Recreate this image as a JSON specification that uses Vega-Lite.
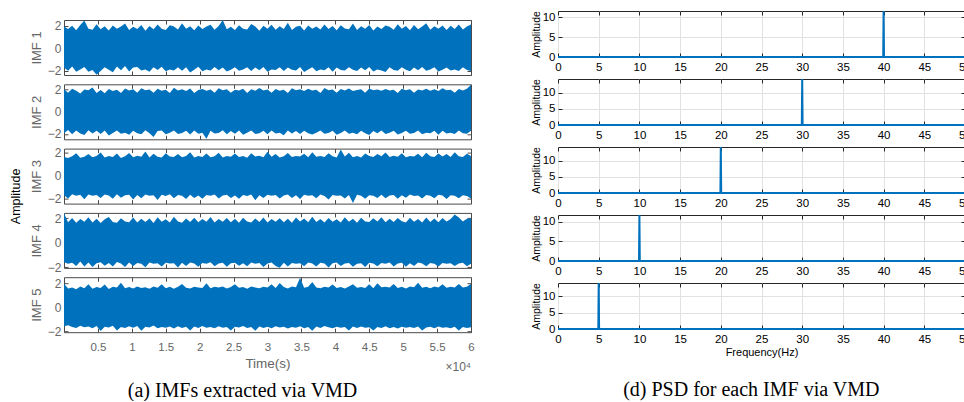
{
"$schema": "https://vega.github.io/schema/vega-lite/v6.json",
"padding": {"left": 10, "top": 6, "right": 0, "bottom": 0},
"background": "white",
"config": {
 "font": "Liberation Sans",
 "axis": {"domain": false, "tickSize": -4, "grid": false, "labelFont": "Liberation Sans", "titleFont": "Liberation Sans", "titleFontWeight": "normal", "labelFlush": false, "labelOverlap": false},
 "title": {"font": "Liberation Serif", "fontWeight": "normal", "color": "#000000"}
},
"datasets": {
 "imf": [
{"t":0,"h1":1.92,"l1":-1.73,"h2":2.05,"l2":-1.95,"h3":1.63,"l3":-1.67,"h4":2.4,"l4":-1.6,"h5":1.95,"l5":-1.55},
{"t":600,"h1":1.7,"l1":-2.02,"h2":1.73,"l2":-1.65,"h3":1.55,"l3":-1.95,"h4":1.67,"l4":-1.73,"h5":1.57,"l5":-1.47},
{"t":1200,"h1":1.98,"l1":-1.64,"h2":2.1,"l2":-2.05,"h3":1.69,"l3":-1.58,"h4":2.02,"l4":-1.65,"h5":1.65,"l5":-1.63},
{"t":1800,"h1":1.59,"l1":-2.1,"h2":1.92,"l2":-1.71,"h3":1.95,"l3":-1.71,"h4":1.63,"l4":-1.92,"h5":1.51,"l5":-1.7},
{"t":2400,"h1":2.05,"l1":-1.91,"h2":1.66,"l2":-1.98,"h3":1.57,"l3":-1.64,"h4":1.94,"l4":-1.55,"h5":1.73,"l5":-1.51},
{"t":3000,"h1":2.45,"l1":-1.69,"h2":2.02,"l2":-2.1,"h3":1.65,"l3":-2.02,"h4":1.71,"l4":-1.95,"h5":1.59,"l5":-1.65},
{"t":3600,"h1":1.73,"l1":-2.1,"h2":1.95,"l2":-1.68,"h3":1.9,"l3":-1.61,"h4":2.08,"l4":-1.63,"h5":1.92,"l5":-1.58},
{"t":4200,"h1":1.64,"l1":-1.95,"h2":2.2,"l2":-1.97,"h3":1.61,"l3":-1.73,"h4":1.65,"l4":-2.0,"h5":1.55,"l5":-1.73},
{"t":4800,"h1":2.12,"l1":-2.38,"h2":1.71,"l2":-1.73,"h3":1.71,"l3":-1.65,"h4":1.96,"l4":-1.69,"h5":1.68,"l5":-1.54},
{"t":5400,"h1":1.68,"l1":-2.05,"h2":1.98,"l2":-2.02,"h3":2.02,"l3":-1.92,"h4":1.6,"l4":-1.61,"h5":1.61,"l5":-1.95},
{"t":6000,"h1":1.95,"l1":-1.71,"h2":1.69,"l2":-1.7,"h3":1.59,"l3":-1.62,"h4":1.92,"l4":-1.9,"h5":1.9,"l5":-1.59},
{"t":6600,"h1":1.56,"l1":-1.93,"h2":2.08,"l2":-2.15,"h3":1.73,"l3":-1.7,"h4":2.1,"l4":-1.67,"h5":1.53,"l5":-1.67},
{"t":7200,"h1":2.02,"l1":-2.15,"h2":1.9,"l2":-1.92,"h3":1.64,"l3":-1.98,"h4":1.69,"l4":-1.96,"h5":1.71,"l5":-1.52},
{"t":7800,"h1":1.71,"l1":-1.65,"h2":2.0,"l2":-1.69,"h3":1.93,"l3":-1.59,"h4":1.62,"l4":-1.58,"h5":1.64,"l5":-1.9},
{"t":8400,"h1":1.93,"l1":-1.97,"h2":1.72,"l2":-2.0,"h3":1.55,"l3":-1.9,"h4":2.0,"l4":-1.71,"h5":2.05,"l5":-1.61},
{"t":9000,"h1":2.18,"l1":-1.59,"h2":2.12,"l2":-1.9,"h3":1.7,"l3":-1.68,"h4":1.73,"l4":-1.99,"h5":1.58,"l5":-1.71},
{"t":9600,"h1":1.62,"l1":-2.08,"h2":1.93,"l2":-2.08,"h3":1.98,"l3":-1.63,"h4":1.66,"l4":-1.63,"h5":1.69,"l5":-1.56},
{"t":10200,"h1":1.9,"l1":-1.74,"h2":2.04,"l2":-1.72,"h3":1.62,"l3":-2.05,"h4":2.05,"l4":-1.92,"h5":1.56,"l5":-1.68},
{"t":10800,"h1":1.69,"l1":-1.68,"h2":1.74,"l2":-1.95,"h3":1.74,"l3":-1.66,"h4":1.64,"l4":-1.66,"h5":1.74,"l5":-1.53},
{"t":11400,"h1":2.06,"l1":-2.0,"h2":2.15,"l2":-2.03,"h3":1.66,"l3":-1.94,"h4":1.95,"l4":-1.73,"h5":1.6,"l5":-1.92},
{"t":12000,"h1":1.54,"l1":-1.92,"h2":1.96,"l2":-1.67,"h3":2.1,"l3":-1.61,"h4":1.68,"l4":-2.02,"h5":1.67,"l5":-1.59},
{"t":12600,"h1":1.97,"l1":-2.12,"h2":2.03,"l2":-1.96,"h3":1.6,"l3":-1.72,"h4":1.98,"l4":-1.62,"h5":1.54,"l5":-1.66},
{"t":13200,"h1":1.67,"l1":-1.71,"h2":1.73,"l2":-2.3,"h3":1.92,"l3":-1.67,"h4":1.61,"l4":-1.74,"h5":1.73,"l5":-1.5},
{"t":13800,"h1":2.1,"l1":-1.96,"h2":2.09,"l2":-1.74,"h3":1.65,"l3":-2.08,"h4":2.07,"l4":-1.69,"h5":1.62,"l5":-1.72},
{"t":14400,"h1":1.73,"l1":-1.66,"h2":1.92,"l2":-1.71,"h3":1.58,"l3":-1.64,"h4":1.7,"l4":-1.95,"h5":1.91,"l5":-1.62},
{"t":15000,"h1":1.61,"l1":-2.06,"h2":2.01,"l2":-2.04,"h3":1.95,"l3":-1.74,"h4":1.92,"l4":-1.64,"h5":1.59,"l5":-1.69},
{"t":15600,"h1":2.03,"l1":-1.9,"h2":1.7,"l2":-1.91,"h3":1.68,"l3":-1.6,"h4":1.65,"l4":-1.72,"h5":1.7,"l5":-1.57},
{"t":16200,"h1":1.91,"l1":-1.99,"h2":2.18,"l2":-1.69,"h3":1.63,"l3":-1.93,"h4":2.12,"l4":-1.68,"h5":1.55,"l5":-1.74},
{"t":16800,"h1":1.65,"l1":-1.7,"h2":1.94,"l2":-2.01,"h3":1.9,"l3":-1.65,"h4":1.72,"l4":-2.04,"h5":1.71,"l5":-1.55},
{"t":17400,"h1":2.22,"l1":-2.03,"h2":2.06,"l2":-1.93,"h3":1.61,"l3":-1.71,"h4":1.63,"l4":-1.65,"h5":1.93,"l5":-1.7},
{"t":18000,"h1":1.72,"l1":-1.72,"h2":1.9,"l2":-1.73,"h3":1.72,"l3":-2.0,"h4":1.97,"l4":-1.91,"h5":1.63,"l5":-1.6},
{"t":18600,"h1":1.95,"l1":-2.18,"h2":2.11,"l2":-2.06,"h3":2.05,"l3":-1.63,"h4":1.69,"l4":-1.63,"h5":1.57,"l5":-1.91},
{"t":19200,"h1":1.58,"l1":-1.94,"h2":1.71,"l2":-1.7,"h3":1.59,"l3":-1.91,"h4":2.03,"l4":-1.71,"h5":1.72,"l5":-1.58},
{"t":19800,"h1":2.0,"l1":-1.67,"h2":1.99,"l2":-1.99,"h3":1.71,"l3":-1.69,"h4":1.66,"l4":-1.97,"h5":1.65,"l5":-1.71},
{"t":20400,"h1":1.7,"l1":-2.07,"h2":2.07,"l2":-1.9,"h3":1.64,"l3":-1.97,"h4":1.94,"l4":-1.67,"h5":1.61,"l5":-1.54},
{"t":21000,"h1":1.92,"l1":-1.91,"h2":1.91,"l2":-2.45,"h3":1.93,"l3":-1.66,"h4":1.71,"l4":-1.73,"h5":2.0,"l5":-1.68},
{"t":21600,"h1":2.08,"l1":-2.01,"h2":2.02,"l2":-1.72,"h3":1.62,"l3":-1.73,"h4":2.09,"l4":-1.61,"h5":1.58,"l5":-1.63},
{"t":22200,"h1":1.63,"l1":-1.69,"h2":1.73,"l2":-1.97,"h3":1.69,"l3":-1.62,"h4":1.64,"l4":-1.93,"h5":1.7,"l5":-1.73},
{"t":22800,"h1":1.96,"l1":-1.98,"h2":2.14,"l2":-1.92,"h3":2.0,"l3":-1.95,"h4":1.93,"l4":-1.7,"h5":1.64,"l5":-1.56},
{"t":23400,"h1":2.5,"l1":-1.73,"h2":1.95,"l2":-1.68,"h3":1.6,"l3":-1.69,"h4":1.7,"l4":-1.65,"h5":1.73,"l5":-1.69},
{"t":24000,"h1":1.68,"l1":-2.09,"h2":2.05,"l2":-2.05,"h3":1.73,"l3":-1.64,"h4":2.01,"l4":-1.98,"h5":1.56,"l5":-1.61},
{"t":24600,"h1":1.9,"l1":-1.93,"h2":1.74,"l2":-1.74,"h3":1.65,"l3":-1.92,"h4":1.67,"l4":-1.69,"h5":1.69,"l5":-1.9},
{"t":25200,"h1":1.6,"l1":-1.72,"h2":2.0,"l2":-2.0,"h3":1.94,"l3":-1.7,"h4":1.96,"l4":-1.64,"h5":1.92,"l5":-1.59},
{"t":25800,"h1":2.04,"l1":-2.02,"h2":1.93,"l2":-1.71,"h3":1.63,"l3":-1.99,"h4":1.62,"l4":-1.9,"h5":1.62,"l5":-1.67},
{"t":26400,"h1":1.73,"l1":-1.92,"h2":2.1,"l2":-2.08,"h3":1.72,"l3":-1.65,"h4":2.04,"l4":-1.68,"h5":1.68,"l5":-1.53},
{"t":27000,"h1":1.66,"l1":-1.7,"h2":1.72,"l2":-1.91,"h3":1.57,"l3":-1.74,"h4":1.73,"l4":-1.94,"h5":1.55,"l5":-1.71},
{"t":27600,"h1":2.15,"l1":-2.04,"h2":2.04,"l2":-1.69,"h3":1.96,"l3":-1.61,"h4":1.65,"l4":-1.63,"h5":1.74,"l5":-1.62},
{"t":28200,"h1":1.93,"l1":-1.74,"h2":1.91,"l2":-2.02,"h3":1.67,"l3":-2.1,"h4":1.98,"l4":-1.74,"h5":1.65,"l5":-1.93},
{"t":28800,"h1":1.55,"l1":-1.97,"h2":2.17,"l2":-1.94,"h3":1.74,"l3":-1.68,"h4":1.69,"l4":-1.67,"h5":1.59,"l5":-1.57},
{"t":29400,"h1":1.99,"l1":-1.68,"h2":1.94,"l2":-1.73,"h3":1.61,"l3":-1.92,"h4":2.06,"l4":-2.0,"h5":1.72,"l5":-1.7},
{"t":30000,"h1":1.71,"l1":-2.11,"h2":2.03,"l2":-2.03,"h3":2.08,"l3":-1.63,"h4":1.64,"l4":-1.71,"h5":1.64,"l5":-1.6},
{"t":30600,"h1":2.07,"l1":-1.9,"h2":1.73,"l2":-1.71,"h3":1.66,"l3":-1.71,"h4":1.93,"l4":-1.62,"h5":1.91,"l5":-1.73},
{"t":31200,"h1":1.64,"l1":-1.96,"h2":2.08,"l2":-1.97,"h3":1.9,"l3":-1.66,"h4":1.71,"l4":-1.91,"h5":1.61,"l5":-1.55},
{"t":31800,"h1":1.94,"l1":-1.71,"h2":1.92,"l2":-1.9,"h3":1.59,"l3":-1.96,"h4":2.0,"l4":-2.05,"h5":2.02,"l5":-1.66},
{"t":32400,"h1":1.69,"l1":-2.05,"h2":2.0,"l2":-2.14,"h3":1.7,"l3":-1.69,"h4":1.67,"l4":-1.64,"h5":1.69,"l5":-1.59},
{"t":33000,"h1":2.25,"l1":-1.73,"h2":1.71,"l2":-1.7,"h3":1.97,"l3":-1.62,"h4":1.95,"l4":-1.96,"h5":1.57,"l5":-1.74},
{"t":33600,"h1":1.62,"l1":-1.94,"h2":2.13,"l2":-1.98,"h3":1.64,"l3":-1.91,"h4":1.63,"l4":-1.66,"h5":1.73,"l5":-1.61},
{"t":34200,"h1":1.9,"l1":-2.0,"h2":1.97,"l2":-1.74,"h3":1.73,"l3":-1.68,"h4":2.05,"l4":-1.73,"h5":1.66,"l5":-1.68},
{"t":34800,"h1":1.98,"l1":-1.69,"h2":2.05,"l2":-2.01,"h3":1.68,"l3":-2.0,"h4":1.72,"l4":-1.69,"h5":2.45,"l5":-1.56},
{"t":35400,"h1":1.57,"l1":-2.13,"h2":1.9,"l2":-1.72,"h3":1.92,"l3":-1.64,"h4":1.97,"l4":-1.93,"h5":1.62,"l5":-1.72},
{"t":36000,"h1":2.01,"l1":-1.91,"h2":2.09,"l2":-1.95,"h3":1.61,"l3":-1.72,"h4":1.66,"l4":-1.63,"h5":1.7,"l5":-1.63},
{"t":36600,"h1":1.72,"l1":-1.72,"h2":1.93,"l2":-2.07,"h3":2.04,"l3":-1.67,"h4":2.11,"l4":-1.72,"h5":2.1,"l5":-1.92},
{"t":37200,"h1":1.93,"l1":-2.06,"h2":2.01,"l2":-1.91,"h3":1.65,"l3":-1.93,"h4":1.69,"l4":-1.95,"h5":1.64,"l5":-1.58},
{"t":37800,"h1":1.65,"l1":-1.92,"h2":1.72,"l2":-1.71,"h3":1.72,"l3":-1.61,"h4":1.94,"l4":-1.65,"h5":1.58,"l5":-1.7},
{"t":38400,"h1":2.11,"l1":-1.98,"h2":2.16,"l2":-2.0,"h3":1.63,"l3":-1.74,"h4":1.64,"l4":-1.71,"h5":1.71,"l5":-1.54},
{"t":39000,"h1":1.7,"l1":-1.7,"h2":1.95,"l2":-1.93,"h3":1.95,"l3":-2.04,"h4":2.02,"l4":-2.04,"h5":1.65,"l5":-1.65},
{"t":39600,"h1":1.96,"l1":-2.1,"h2":2.02,"l2":-1.73,"h3":1.69,"l3":-1.65,"h4":1.71,"l4":-1.68,"h5":1.9,"l5":-1.73},
{"t":40200,"h1":1.59,"l1":-1.74,"h2":1.74,"l2":-2.09,"h3":1.58,"l3":-1.73,"h4":1.92,"l4":-1.62,"h5":1.6,"l5":-1.59},
{"t":40800,"h1":2.03,"l1":-1.95,"h2":2.07,"l2":-1.92,"h3":2.28,"l3":-1.69,"h4":1.65,"l4":-1.92,"h5":1.68,"l5":-1.68},
{"t":41400,"h1":1.74,"l1":-2.01,"h2":1.94,"l2":-1.7,"h3":1.67,"l3":-1.95,"h4":2.08,"l4":-1.7,"h5":1.56,"l5":-1.62},
{"t":42000,"h1":1.67,"l1":-1.71,"h2":2.11,"l2":-1.99,"h3":2.01,"l3":-1.66,"h4":1.7,"l4":-1.66,"h5":1.73,"l5":-1.9},
{"t":42600,"h1":2.19,"l1":-1.94,"h2":1.9,"l2":-1.9,"h3":1.62,"l3":-2.35,"h4":1.96,"l4":-1.97,"h5":1.92,"l5":-1.57},
{"t":43200,"h1":1.61,"l1":-2.04,"h2":1.99,"l2":-2.04,"h3":1.73,"l3":-1.63,"h4":1.63,"l4":-1.74,"h5":1.63,"l5":-1.71},
{"t":43800,"h1":1.95,"l1":-1.73,"h2":2.04,"l2":-1.72,"h3":1.6,"l3":-1.71,"h4":2.03,"l4":-1.69,"h5":1.69,"l5":-1.58},
{"t":44400,"h1":1.73,"l1":-1.97,"h2":1.73,"l2":-1.96,"h3":1.94,"l3":-1.98,"h4":1.73,"l4":-2.0,"h5":1.61,"l5":-1.69},
{"t":45000,"h1":2.05,"l1":-1.68,"h2":2.12,"l2":-2.11,"h3":1.71,"l3":-1.67,"h4":1.68,"l4":-1.64,"h5":1.91,"l5":-1.64},
{"t":45600,"h1":1.56,"l1":-2.08,"h2":1.96,"l2":-1.74,"h3":1.64,"l3":-1.72,"h4":1.99,"l4":-1.71,"h5":1.59,"l5":-1.91},
{"t":46200,"h1":1.92,"l1":-1.9,"h2":2.03,"l2":-1.94,"h3":1.9,"l3":-1.91,"h4":1.72,"l4":-1.93,"h5":2.0,"l5":-1.61},
{"t":46800,"h1":1.69,"l1":-1.99,"h2":1.91,"l2":-1.71,"h3":1.69,"l3":-1.64,"h4":2.07,"l4":-1.67,"h5":1.67,"l5":-1.7},
{"t":47400,"h1":2.0,"l1":-2.14,"h2":2.08,"l2":-2.02,"h3":2.03,"l3":-1.94,"h4":1.66,"l4":-1.73,"h5":1.72,"l5":-1.55},
{"t":48000,"h1":1.9,"l1":-1.72,"h2":1.93,"l2":-1.91,"h3":1.63,"l3":-1.7,"h4":1.95,"l4":-1.63,"h5":1.64,"l5":-1.72},
{"t":48600,"h1":1.63,"l1":-1.95,"h2":2.0,"l2":-1.73,"h3":1.74,"l3":-1.66,"h4":1.69,"l4":-1.95,"h5":1.93,"l5":-1.63},
{"t":49200,"h1":2.13,"l1":-2.03,"h2":1.72,"l2":-2.06,"h3":1.66,"l3":-1.99,"h4":2.01,"l4":-1.7,"h5":1.61,"l5":-1.74},
{"t":49800,"h1":1.71,"l1":-1.7,"h2":2.1,"l2":-1.93,"h3":1.96,"l3":-1.68,"h4":1.74,"l4":-1.65,"h5":1.7,"l5":-1.59},
{"t":50400,"h1":1.97,"l1":-1.93,"h2":1.95,"l2":-1.72,"h3":1.62,"l3":-1.9,"h4":1.65,"l4":-1.98,"h5":1.57,"l5":-1.68},
{"t":51000,"h1":1.58,"l1":-2.07,"h2":2.06,"l2":-2.0,"h3":1.73,"l3":-1.62,"h4":2.04,"l4":-1.68,"h5":1.74,"l5":-1.62},
{"t":51600,"h1":2.06,"l1":-1.74,"h2":1.74,"l2":-1.92,"h3":1.68,"l3":-1.74,"h4":1.71,"l4":-1.91,"h5":1.66,"l5":-1.71},
{"t":52200,"h1":1.68,"l1":-1.98,"h2":2.02,"l2":-1.71,"h3":1.92,"l3":-1.69,"h4":1.93,"l4":-1.63,"h5":2.04,"l5":-1.57},
{"t":52800,"h1":1.91,"l1":-1.69,"h2":1.94,"l2":-2.03,"h3":1.61,"l3":-1.96,"h4":1.64,"l4":-1.72,"h5":1.63,"l5":-1.9},
{"t":53400,"h1":2.2,"l1":-2.02,"h2":2.09,"l2":-1.9,"h3":2.0,"l3":-1.65,"h4":2.06,"l4":-1.94,"h5":1.71,"l5":-1.66},
{"t":54000,"h1":1.64,"l1":-1.91,"h2":1.92,"l2":-1.95,"h3":1.7,"l3":-1.72,"h4":1.68,"l4":-1.66,"h5":1.59,"l5":-1.6},
{"t":54600,"h1":1.94,"l1":-1.71,"h2":2.05,"l2":-1.73,"h3":1.64,"l3":-1.93,"h4":1.97,"l4":-1.73,"h5":1.73,"l5":-1.73},
{"t":55200,"h1":1.72,"l1":-2.09,"h2":1.9,"l2":-2.08,"h3":1.93,"l3":-1.63,"h4":1.67,"l4":-1.96,"h5":1.65,"l5":-1.58},
{"t":55800,"h1":2.02,"l1":-1.94,"h2":2.14,"l2":-1.72,"h3":1.67,"l3":-1.7,"h4":2.02,"l4":-1.67,"h5":1.91,"l5":-1.69},
{"t":56400,"h1":1.6,"l1":-1.73,"h2":1.96,"l2":-1.97,"h3":1.9,"l3":-2.01,"h4":1.73,"l4":-1.74,"h5":1.62,"l5":-1.64},
{"t":57000,"h1":1.98,"l1":-2.0,"h2":2.01,"l2":-1.91,"h3":1.63,"l3":-1.67,"h4":1.94,"l4":-1.69,"h5":1.7,"l5":-1.72},
{"t":57600,"h1":1.7,"l1":-1.92,"h2":1.73,"l2":-2.01,"h3":2.05,"l3":-1.73,"h4":2.3,"l4":-1.92,"h5":1.64,"l5":-1.59},
{"t":58200,"h1":2.09,"l1":-2.05,"h2":2.07,"l2":-1.71,"h3":1.69,"l3":-1.94,"h4":2.05,"l4":-1.71,"h5":1.93,"l5":-1.91},
{"t":58800,"h1":1.66,"l1":-1.72,"h2":1.93,"l2":-1.94,"h3":1.64,"l3":-1.68,"h4":1.72,"l4":-1.65,"h5":1.65,"l5":-1.63},
{"t":59400,"h1":1.93,"l1":-1.96,"h2":2.1,"l2":-1.99,"h3":1.91,"l3":-1.74,"h4":1.96,"l4":-1.93,"h5":1.72,"l5":-1.7},
{"t":60000,"h1":2.1,"l1":-2.04,"h2":2.45,"l2":-1.73,"h3":1.71,"l3":-1.95,"h4":2.0,"l4":-1.73,"h5":1.95,"l5":-1.65}
 ],
 "psd": [
{"k":1,"f":0,"a":0},{"k":1,"f":39.95,"a":0},{"k":1,"f":40,"a":11.6},{"k":1,"f":40.05,"a":0},{"k":1,"f":50,"a":0},
{"k":2,"f":0,"a":0},{"k":2,"f":29.95,"a":0},{"k":2,"f":30,"a":14.2},{"k":2,"f":30.05,"a":0},{"k":2,"f":50,"a":0},
{"k":3,"f":0,"a":0},{"k":3,"f":19.95,"a":0},{"k":3,"f":20,"a":14.3},{"k":3,"f":20.05,"a":0},{"k":3,"f":50,"a":0},
{"k":4,"f":0,"a":0},{"k":4,"f":9.95,"a":0},{"k":4,"f":10,"a":11.7},{"k":4,"f":10.05,"a":0},{"k":4,"f":50,"a":0},
{"k":5,"f":0,"a":0},{"k":5,"f":4.95,"a":0},{"k":5,"f":5,"a":14.0},{"k":5,"f":5.05,"a":0},{"k":5,"f":50,"a":0}
 ]
},
"hconcat": [
 {
  "title": {"text": "(a) IMFs extracted via VMD", "orient": "bottom", "anchor": "middle", "fontSize": 20, "offset": 7},
  "spacing": 0,
  "vconcat": [
   {
    "width": 407, "height": 8,
    "view": {"stroke": null},
    "data": {"values": [{}]},
    "mark": {"type": "point", "size": 0, "opacity": 0},
    "encoding": {}
   },
   {
    "title": {"text": "Amplitude", "orient": "left", "anchor": "middle", "font": "Liberation Sans", "fontSize": 12.5, "offset": 7},
    "bounds": "flush",
    "spacing": 9.3,
    "vconcat": [
     {
      "width": 407, "height": 55,
      "view": {"stroke": "#4a4a4a"},
      "data": {"name": "imf"},
      "layer": [
       {"mark": {"type": "area", "color": "#0072BD", "clip": true},
        "encoding": {
         "x": {"field": "t", "type": "quantitative", "scale": {"domain": [0, 60000], "nice": false}, "axis": {"values": [5000,10000,15000,20000,25000,30000,35000,40000,45000,50000,55000,60000], "labels": false, "title": null, "tickColor": "#4a4a4a"}},
         "y": {"field": "h1", "type": "quantitative", "scale": {"domain": [-2.4, 2.5], "nice": false, "zero": false}, "axis": {"values": [-2,0,2], "title": "IMF 1", "labelColor": "#666666", "labelFontSize": 12, "labelPadding": 7, "titleColor": "#666666", "titleFontSize": 13, "titlePadding": 4, "tickColor": "#4a4a4a"}},
         "y2": {"field": "l1"}
        }},
       {"mark": {"type": "area", "opacity": 0},
        "encoding": {
         "x": {"field": "t", "type": "quantitative", "axis": {"orient": "top", "values": [5000,10000,15000,20000,25000,30000,35000,40000,45000,50000,55000,60000], "labels": false, "title": null, "tickColor": "#4a4a4a"}},
         "y": {"field": "h1", "type": "quantitative", "axis": {"orient": "right", "values": [-2,0,2], "labels": false, "title": null, "tickColor": "#4a4a4a"}},
         "y2": {"field": "l1"}
        }}
      ],
      "resolve": {"axis": {"x": "independent", "y": "independent"}}
     },
     {
      "width": 407, "height": 55,
      "view": {"stroke": "#4a4a4a"},
      "data": {"name": "imf"},
      "layer": [
       {"mark": {"type": "area", "color": "#0072BD", "clip": true},
        "encoding": {
         "x": {"field": "t", "type": "quantitative", "scale": {"domain": [0, 60000], "nice": false}, "axis": {"values": [5000,10000,15000,20000,25000,30000,35000,40000,45000,50000,55000,60000], "labels": false, "title": null, "tickColor": "#4a4a4a"}},
         "y": {"field": "h2", "type": "quantitative", "scale": {"domain": [-2.5, 2.5], "nice": false, "zero": false}, "axis": {"values": [-2,0,2], "title": "IMF 2", "labelColor": "#666666", "labelFontSize": 12, "labelPadding": 7, "titleColor": "#666666", "titleFontSize": 13, "titlePadding": 4, "tickColor": "#4a4a4a"}},
         "y2": {"field": "l2"}
        }},
       {"mark": {"type": "area", "opacity": 0},
        "encoding": {
         "x": {"field": "t", "type": "quantitative", "axis": {"orient": "top", "values": [5000,10000,15000,20000,25000,30000,35000,40000,45000,50000,55000,60000], "labels": false, "title": null, "tickColor": "#4a4a4a"}},
         "y": {"field": "h2", "type": "quantitative", "axis": {"orient": "right", "values": [-2,0,2], "labels": false, "title": null, "tickColor": "#4a4a4a"}},
         "y2": {"field": "l2"}
        }}
      ],
      "resolve": {"axis": {"x": "independent", "y": "independent"}}
     },
     {
      "width": 407, "height": 55,
      "view": {"stroke": "#4a4a4a"},
      "data": {"name": "imf"},
      "layer": [
       {"mark": {"type": "area", "color": "#0072BD", "clip": true},
        "encoding": {
         "x": {"field": "t", "type": "quantitative", "scale": {"domain": [0, 60000], "nice": false}, "axis": {"values": [5000,10000,15000,20000,25000,30000,35000,40000,45000,50000,55000,60000], "labels": false, "title": null, "tickColor": "#4a4a4a"}},
         "y": {"field": "h3", "type": "quantitative", "scale": {"domain": [-2.4, 2.36], "nice": false, "zero": false}, "axis": {"values": [-2,0,2], "title": "IMF 3", "labelColor": "#666666", "labelFontSize": 12, "labelPadding": 7, "titleColor": "#666666", "titleFontSize": 13, "titlePadding": 4, "tickColor": "#4a4a4a"}},
         "y2": {"field": "l3"}
        }},
       {"mark": {"type": "area", "opacity": 0},
        "encoding": {
         "x": {"field": "t", "type": "quantitative", "axis": {"orient": "top", "values": [5000,10000,15000,20000,25000,30000,35000,40000,45000,50000,55000,60000], "labels": false, "title": null, "tickColor": "#4a4a4a"}},
         "y": {"field": "h3", "type": "quantitative", "axis": {"orient": "right", "values": [-2,0,2], "labels": false, "title": null, "tickColor": "#4a4a4a"}},
         "y2": {"field": "l3"}
        }}
      ],
      "resolve": {"axis": {"x": "independent", "y": "independent"}}
     },
     {
      "width": 407, "height": 55,
      "view": {"stroke": "#4a4a4a"},
      "data": {"name": "imf"},
      "layer": [
       {"mark": {"type": "area", "color": "#0072BD", "clip": true},
        "encoding": {
         "x": {"field": "t", "type": "quantitative", "scale": {"domain": [0, 60000], "nice": false}, "axis": {"values": [5000,10000,15000,20000,25000,30000,35000,40000,45000,50000,55000,60000], "labels": false, "title": null, "tickColor": "#4a4a4a"}},
         "y": {"field": "h4", "type": "quantitative", "scale": {"domain": [-2.07, 2.43], "nice": false, "zero": false}, "axis": {"values": [-2,0,2], "title": "IMF 4", "labelColor": "#666666", "labelFontSize": 12, "labelPadding": 7, "titleColor": "#666666", "titleFontSize": 13, "titlePadding": 4, "tickColor": "#4a4a4a"}},
         "y2": {"field": "l4"}
        }},
       {"mark": {"type": "area", "opacity": 0},
        "encoding": {
         "x": {"field": "t", "type": "quantitative", "axis": {"orient": "top", "values": [5000,10000,15000,20000,25000,30000,35000,40000,45000,50000,55000,60000], "labels": false, "title": null, "tickColor": "#4a4a4a"}},
         "y": {"field": "h4", "type": "quantitative", "axis": {"orient": "right", "values": [-2,0,2], "labels": false, "title": null, "tickColor": "#4a4a4a"}},
         "y2": {"field": "l4"}
        }}
      ],
      "resolve": {"axis": {"x": "independent", "y": "independent"}}
     },
     {
      "width": 407, "height": 55,
      "view": {"stroke": "#4a4a4a"},
      "data": {"name": "imf"},
      "layer": [
       {"mark": {"type": "area", "color": "#0072BD", "clip": true},
        "encoding": {
         "x": {"field": "t", "type": "quantitative", "scale": {"domain": [0, 60000], "nice": false}, "axis": {"values": [5000,10000,15000,20000,25000,30000,35000,40000,45000,50000,55000,60000], "labelExpr": "datum.value / 10000", "labelColor": "#666666", "labelFontSize": 11.5, "labelPadding": 13, "title": "Time(s)", "titleColor": "#666666", "titleFontSize": 13.5, "titlePadding": 4, "tickColor": "#4a4a4a"}},
         "y": {"field": "h5", "type": "quantitative", "scale": {"domain": [-2.05, 2.5], "nice": false, "zero": false}, "axis": {"values": [-2,0,2], "title": "IMF 5", "labelColor": "#666666", "labelFontSize": 12, "labelPadding": 7, "titleColor": "#666666", "titleFontSize": 13, "titlePadding": 4, "tickColor": "#4a4a4a"}},
         "y2": {"field": "l5"}
        }},
       {"mark": {"type": "area", "opacity": 0},
        "encoding": {
         "x": {"field": "t", "type": "quantitative", "axis": {"orient": "top", "values": [5000,10000,15000,20000,25000,30000,35000,40000,45000,50000,55000,60000], "labels": false, "title": null, "tickColor": "#4a4a4a"}},
         "y": {"field": "h5", "type": "quantitative", "axis": {"orient": "right", "values": [-2,0,2], "labels": false, "title": null, "tickColor": "#4a4a4a"}},
         "y2": {"field": "l5"}
        }},
       {"data": {"values": [{}]},
        "mark": {"type": "text", "align": "right", "baseline": "alphabetic", "dy": 39, "fontSize": 12, "font": "Liberation Sans", "color": "#666666"},
        "encoding": {
         "x": {"datum": 60000, "type": "quantitative", "axis": null},
         "y": {"datum": -2.05, "type": "quantitative", "axis": null},
         "text": {"value": "×10⁴"}
        }}
      ],
      "resolve": {"axis": {"x": "independent", "y": "independent"}}
     }
    ]
   }
  ]
 },
 {
  "title": {"text": "(d) PSD for each IMF via VMD", "orient": "bottom", "anchor": "middle", "fontSize": 20, "offset": 22},
  "bounds": "flush",
  "spacing": 22,
  "vconcat": [
   {
    "width": 407, "height": 46,
    "view": {"stroke": "#262626"},
    "data": {"name": "psd"},
    "transform": [{"filter": "datum.k == 1"}],
    "layer": [
     {"mark": {"type": "line", "color": "#0072BD", "strokeWidth": 2, "clip": false},
      "encoding": {
       "x": {"field": "f", "type": "quantitative", "scale": {"domain": [0, 50], "nice": false}, "axis": {"values": [0,5,10,15,20,25,30,35,40,45,50], "grid": true, "gridColor": "#e2e2e2", "labelFontSize": 11.5, "labelColor": "#000000", "labelPadding": 8, "title": null, "tickColor": "#262626"}},
       "y": {"field": "a", "type": "quantitative", "scale": {"domain": [0, 11.6], "nice": false}, "axis": {"values": [0,5,10], "grid": true, "gridColor": "#e2e2e2", "labelFontSize": 11.5, "labelColor": "#000000", "labelPadding": 7, "title": "Amplitude", "titleFontSize": 10.5, "titleColor": "#000000", "titlePadding": 1, "tickColor": "#262626"}}
      }},
     {"mark": {"type": "line", "opacity": 0},
      "encoding": {
       "x": {"field": "f", "type": "quantitative", "axis": {"orient": "top", "values": [0,5,10,15,20,25,30,35,40,45,50], "labels": false, "title": null, "tickColor": "#262626"}},
       "y": {"field": "a", "type": "quantitative", "axis": {"orient": "right", "values": [0,5,10], "labels": false, "title": null, "tickColor": "#262626"}}
      }}
    ],
    "resolve": {"axis": {"x": "independent", "y": "independent"}}
   },
   {
    "width": 407, "height": 46,
    "view": {"stroke": "#262626"},
    "data": {"name": "psd"},
    "transform": [{"filter": "datum.k == 2"}],
    "layer": [
     {"mark": {"type": "line", "color": "#0072BD", "strokeWidth": 2, "clip": false},
      "encoding": {
       "x": {"field": "f", "type": "quantitative", "scale": {"domain": [0, 50], "nice": false}, "axis": {"values": [0,5,10,15,20,25,30,35,40,45,50], "grid": true, "gridColor": "#e2e2e2", "labelFontSize": 11.5, "labelColor": "#000000", "labelPadding": 8, "title": null, "tickColor": "#262626"}},
       "y": {"field": "a", "type": "quantitative", "scale": {"domain": [0, 14.2], "nice": false}, "axis": {"values": [0,5,10], "grid": true, "gridColor": "#e2e2e2", "labelFontSize": 11.5, "labelColor": "#000000", "labelPadding": 7, "title": "Amplitude", "titleFontSize": 10.5, "titleColor": "#000000", "titlePadding": 1, "tickColor": "#262626"}}
      }},
     {"mark": {"type": "line", "opacity": 0},
      "encoding": {
       "x": {"field": "f", "type": "quantitative", "axis": {"orient": "top", "values": [0,5,10,15,20,25,30,35,40,45,50], "labels": false, "title": null, "tickColor": "#262626"}},
       "y": {"field": "a", "type": "quantitative", "axis": {"orient": "right", "values": [0,5,10], "labels": false, "title": null, "tickColor": "#262626"}}
      }}
    ],
    "resolve": {"axis": {"x": "independent", "y": "independent"}}
   },
   {
    "width": 407, "height": 46,
    "view": {"stroke": "#262626"},
    "data": {"name": "psd"},
    "transform": [{"filter": "datum.k == 3"}],
    "layer": [
     {"mark": {"type": "line", "color": "#0072BD", "strokeWidth": 2, "clip": false},
      "encoding": {
       "x": {"field": "f", "type": "quantitative", "scale": {"domain": [0, 50], "nice": false}, "axis": {"values": [0,5,10,15,20,25,30,35,40,45,50], "grid": true, "gridColor": "#e2e2e2", "labelFontSize": 11.5, "labelColor": "#000000", "labelPadding": 8, "title": null, "tickColor": "#262626"}},
       "y": {"field": "a", "type": "quantitative", "scale": {"domain": [0, 14.3], "nice": false}, "axis": {"values": [0,5,10], "grid": true, "gridColor": "#e2e2e2", "labelFontSize": 11.5, "labelColor": "#000000", "labelPadding": 7, "title": "Amplitude", "titleFontSize": 10.5, "titleColor": "#000000", "titlePadding": 1, "tickColor": "#262626"}}
      }},
     {"mark": {"type": "line", "opacity": 0},
      "encoding": {
       "x": {"field": "f", "type": "quantitative", "axis": {"orient": "top", "values": [0,5,10,15,20,25,30,35,40,45,50], "labels": false, "title": null, "tickColor": "#262626"}},
       "y": {"field": "a", "type": "quantitative", "axis": {"orient": "right", "values": [0,5,10], "labels": false, "title": null, "tickColor": "#262626"}}
      }}
    ],
    "resolve": {"axis": {"x": "independent", "y": "independent"}}
   },
   {
    "width": 407, "height": 46,
    "view": {"stroke": "#262626"},
    "data": {"name": "psd"},
    "transform": [{"filter": "datum.k == 4"}],
    "layer": [
     {"mark": {"type": "line", "color": "#0072BD", "strokeWidth": 2, "clip": false},
      "encoding": {
       "x": {"field": "f", "type": "quantitative", "scale": {"domain": [0, 50], "nice": false}, "axis": {"values": [0,5,10,15,20,25,30,35,40,45,50], "grid": true, "gridColor": "#e2e2e2", "labelFontSize": 11.5, "labelColor": "#000000", "labelPadding": 8, "title": null, "tickColor": "#262626"}},
       "y": {"field": "a", "type": "quantitative", "scale": {"domain": [0, 11.7], "nice": false}, "axis": {"values": [0,5,10], "grid": true, "gridColor": "#e2e2e2", "labelFontSize": 11.5, "labelColor": "#000000", "labelPadding": 7, "title": "Amplitude", "titleFontSize": 10.5, "titleColor": "#000000", "titlePadding": 1, "tickColor": "#262626"}}
      }},
     {"mark": {"type": "line", "opacity": 0},
      "encoding": {
       "x": {"field": "f", "type": "quantitative", "axis": {"orient": "top", "values": [0,5,10,15,20,25,30,35,40,45,50], "labels": false, "title": null, "tickColor": "#262626"}},
       "y": {"field": "a", "type": "quantitative", "axis": {"orient": "right", "values": [0,5,10], "labels": false, "title": null, "tickColor": "#262626"}}
      }}
    ],
    "resolve": {"axis": {"x": "independent", "y": "independent"}}
   },
   {
    "width": 407, "height": 46,
    "view": {"stroke": "#262626"},
    "data": {"name": "psd"},
    "transform": [{"filter": "datum.k == 5"}],
    "layer": [
     {"mark": {"type": "line", "color": "#0072BD", "strokeWidth": 2, "clip": false},
      "encoding": {
       "x": {"field": "f", "type": "quantitative", "scale": {"domain": [0, 50], "nice": false}, "axis": {"values": [0,5,10,15,20,25,30,35,40,45,50], "grid": true, "gridColor": "#e2e2e2", "labelFontSize": 11.5, "labelColor": "#000000", "labelPadding": 8, "title": "Frequency(Hz)", "titleFontSize": 11, "titleColor": "#000000", "titlePadding": 2, "tickColor": "#262626"}},
       "y": {"field": "a", "type": "quantitative", "scale": {"domain": [0, 14.0], "nice": false}, "axis": {"values": [0,5,10], "grid": true, "gridColor": "#e2e2e2", "labelFontSize": 11.5, "labelColor": "#000000", "labelPadding": 7, "title": "Amplitude", "titleFontSize": 10.5, "titleColor": "#000000", "titlePadding": 1, "tickColor": "#262626"}}
      }},
     {"mark": {"type": "line", "opacity": 0},
      "encoding": {
       "x": {"field": "f", "type": "quantitative", "axis": {"orient": "top", "values": [0,5,10,15,20,25,30,35,40,45,50], "labels": false, "title": null, "tickColor": "#262626"}},
       "y": {"field": "a", "type": "quantitative", "axis": {"orient": "right", "values": [0,5,10], "labels": false, "title": null, "tickColor": "#262626"}}
      }}
    ],
    "resolve": {"axis": {"x": "independent", "y": "independent"}}
   }
  ]
 }
],
"spacing": 55
}
